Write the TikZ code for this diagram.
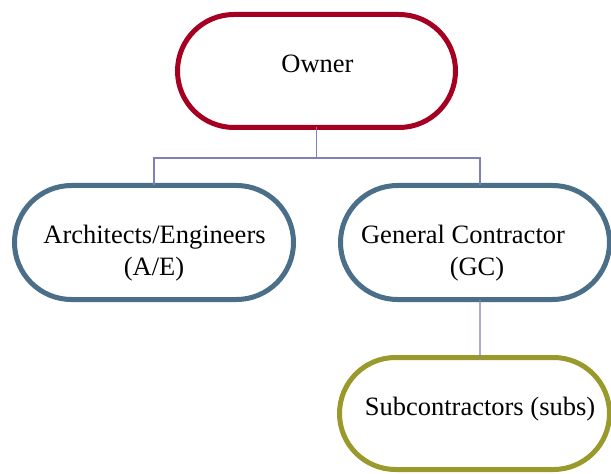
\documentclass[tikz,border=0pt]{standalone}
\usepackage{fontspec}
\setmainfont{Liberation Serif}
\newfontfamily\tnr{Liberation Serif}
\usetikzlibrary{shapes.misc,calc}
\definecolor{ownerred}{HTML}{A50021}
\definecolor{slateb}{HTML}{4B6F88}
\definecolor{olivey}{HTML}{9A9A2C}
\definecolor{connc}{HTML}{8080B8}
\tikzset{
  pill/.style={rounded rectangle, draw=#1, line width=5bp, fill=white, inner sep=0pt, outer sep=0pt},
  lbl/.style={anchor=base, inner sep=0pt, font=\tnr\fontsize{26.5bp}{31bp}\selectfont},
  conn/.style={draw=connc, line width=1.3bp}
}
\begin{document}
\begin{tikzpicture}[x=1bp,y=-1bp]
\useasboundingbox (0,0) rectangle (611,474);
\clip (0,0) rectangle (611,474);
\fill[white] (0,0) rectangle (611,474);
\node[pill=ownerred, minimum width=278bp, minimum height=113bp] (owner) at (316.5,71) {};
\node[pill=slateb, minimum width=279bp, minimum height=114bp] (ae) at (154,242.5) {};
\node[pill=slateb, minimum width=269bp, minimum height=114bp] (gc) at (475,242.5) {};
\node[pill=olivey, minimum width=270bp, minimum height=112bp] (subs) at (474.5,413.5) {};
\coordinate (hub) at (316.5,158);
\coordinate (gcn) at ($(gc.north)+(5,0)$);
\coordinate (gcs) at ($(gc.south)+(5,0)$);
\coordinate (subn) at ($(subs.north)+(5.5,0)$);
\draw[conn] (owner.south) -- (hub);
\draw[conn] (ae.north) -- (hub -| ae.north) -- (hub -| gcn) -- (gcn);
\draw[conn] (gcs) -- (subn);
\node[lbl] (townr) at (317.5,73) {Owner};
\node[lbl] (tae1) at (154.5,244) {Architects/Engineers};
\node[lbl] (tae2) at (154,276) {(A/E)};
\node[lbl] (tgc1) at (463,244) {General Contractor};
\node[lbl] (tgc2) at (477,276) {(GC)};
\node[lbl] (tsubs) at (480,415) {Subcontractors (subs)};
\end{tikzpicture}
\end{document}
